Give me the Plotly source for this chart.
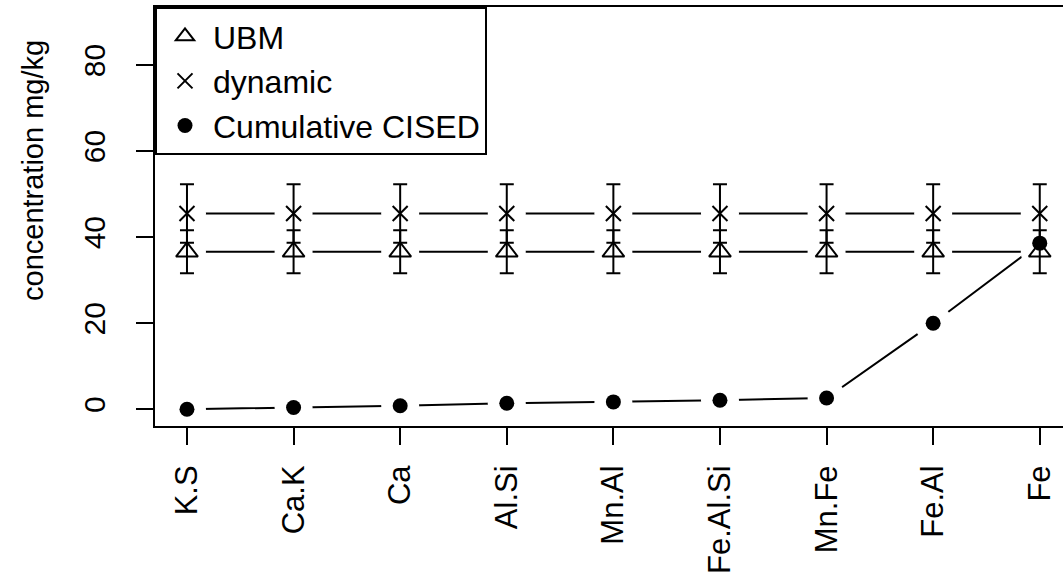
import plotly.graph_objects as go

categories = ["K.S", "Ca.K", "Ca", "Al.Si", "Mn.Al", "Fe.Al.Si", "Mn.Fe", "Fe.Al", "Fe"]
ubm_mean = [36.6, 36.6, 36.6, 36.6, 36.6, 36.6, 36.6, 36.6, 36.6]
ubm_err = [5.0, 5.0, 5.0, 5.0, 5.0, 5.0, 5.0, 5.0, 5.0]
dynamic_mean = [45.5, 45.5, 45.5, 45.5, 45.5, 45.5, 45.5, 45.5, 45.5]
dynamic_err = [6.8, 6.8, 6.8, 6.8, 6.8, 6.8, 6.8, 6.8, 6.8]
cised = [0.0, 0.4, 0.8, 1.4, 1.7, 2.1, 2.6, 20.0, 38.6]
y_ticks = [0, 20, 40, 60, 80]

xpos = [i + 1 for i in range(len(categories))]
FONT = "Arial, Liberation Sans, sans-serif"
BLACK = "black"

fig = go.Figure()

# connecting lines
for ys in (ubm_mean, dynamic_mean, cised):
    fig.add_trace(go.Scatter(x=xpos, y=ys, mode="lines", line=dict(color=BLACK, width=2),
                             showlegend=False, hoverinfo="skip"))

# white halos to create the gaps of an R type="b" plot
for ys in (ubm_mean, dynamic_mean, cised):
    fig.add_trace(go.Scatter(x=xpos, y=ys, mode="markers",
                             marker=dict(symbol="circle", size=38, color="white", line=dict(width=0)),
                             showlegend=False, hoverinfo="skip"))

fig.add_trace(go.Scatter(
    x=xpos, y=ubm_mean, mode="markers", name="UBM",
    marker=dict(symbol="triangle-up-open", size=19, color=BLACK, line=dict(width=2, color=BLACK)),
    error_y=dict(type="data", array=ubm_err, visible=True, color=BLACK, thickness=2, width=7),
))
fig.add_trace(go.Scatter(
    x=xpos, y=dynamic_mean, mode="markers", name="dynamic",
    marker=dict(symbol="x-thin-open", size=15, color=BLACK, line=dict(width=2, color=BLACK)),
    error_y=dict(type="data", array=dynamic_err, visible=True, color=BLACK, thickness=2, width=7),
))
fig.add_trace(go.Scatter(
    x=xpos, y=cised, mode="markers", name="Cumulative CISED",
    marker=dict(symbol="circle", size=15, color=BLACK),
))

fig.update_layout(
    width=1063, height=583,
    margin=dict(l=155, r=0, t=7, b=157),
    plot_bgcolor="white", paper_bgcolor="white",
    font=dict(family=FONT, color=BLACK, size=30),
    showlegend=True,
    legend=dict(x=0, y=1, xanchor="left", yanchor="top",
                bordercolor=BLACK, borderwidth=2, bgcolor="white",
                font=dict(size=32, family=FONT), itemwidth=46,
                tracegroupgap=0),
    xaxis=dict(range=[0.70, 9.218], tickmode="array", tickvals=xpos, ticktext=categories,
               showline=True, linecolor=BLACK, linewidth=2, mirror=True,
               ticks="outside", ticklen=17, tickwidth=2, tickcolor=BLACK,
               tickangle=-90, tickfont=dict(size=31), ticklabelstandoff=8,
               showgrid=False, zeroline=False),
    yaxis=dict(range=[-3.9, 93.5], tickmode="array", tickvals=y_ticks,
               showline=True, linecolor=BLACK, linewidth=2,
               ticks="outside", ticklen=17, tickwidth=2, tickcolor=BLACK,
               tickangle=-90, tickfont=dict(size=30), ticklabelstandoff=19,
               showgrid=False, zeroline=False),
    annotations=[dict(text="concentration mg/kg", xref="paper", yref="paper",
                      x=(33 - 155) / 908, y=(426 - 171) / 419, xanchor="center", yanchor="middle",
                      textangle=-90, showarrow=False, font=dict(size=29, family=FONT))],
)

fig.write_html("out.html", config={"displayModeBar": False},
               post_script="document.body.style.margin='0';")
